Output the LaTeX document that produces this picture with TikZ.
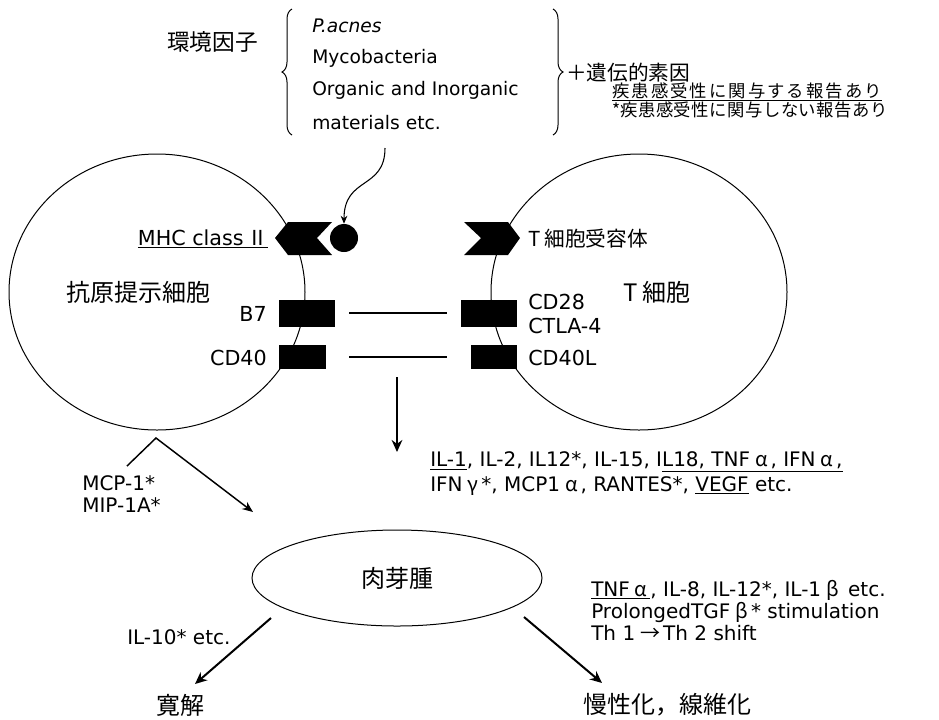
\documentclass[tikz,border=0pt]{standalone}
\usepackage{fontspec}
\setmainfont{DejaVu Sans}
\newfontfamily\cjk{Noto Sans CJK JP}
\newfontfamily\cjknotea[LetterSpace=12]{Noto Sans CJK JP}
\newfontfamily\cjknoteb[LetterSpace=3]{Noto Sans CJK JP}
\newcommand\gk[1]{\hspace{0.25em}{\cjk #1}\hspace{0.15em}}
\usetikzlibrary{arrows.meta,decorations.pathreplacing,shapes.geometric}
\begin{document}
\begin{tikzpicture}[x=0.75pt,y=-0.75pt,
  txt/.style={inner sep=0pt, font=\fontsize{15}{18}\selectfont},
  lst/.style={inner sep=0pt, font=\fontsize{14}{17}\selectfont},
  lbl/.style={inner sep=0pt, font=\fontsize{15.5}{18}\selectfont},
  jbig/.style={inner sep=0pt, font=\cjk\fontsize{18}{21}\selectfont},
  jenv/.style={inner sep=0pt, font=\cjk\fontsize{17}{20}\selectfont},
  jgen/.style={inner sep=0pt, font=\cjk\fontsize{15.5}{18}\selectfont},
  jmid/.style={inner sep=0pt, font=\cjk\fontsize{15.5}{18}\selectfont},
  jnotea/.style={inner sep=0pt, font=\cjknotea\fontsize{13}{15}\selectfont},
  jnoteb/.style={inner sep=0pt, font=\cjknoteb\fontsize{13}{15}\selectfont},
  cell/.style={draw, ellipse, line width=0.75pt, minimum width=222pt, minimum height=207pt, inner sep=0pt},
  recep/.style={fill=black, draw=none, inner sep=0pt},
  bond/.style={line width=0.9pt},
  bigarrow/.style={line width=1.5pt, -{Stealth[length=9pt,width=8pt]}},
  thinarrow/.style={line width=1.1pt, -{Stealth[length=8pt,width=6.5pt]}},
  brc/.style={line width=0.75pt, decorate, decoration={brace, amplitude=7.5pt}},
]
\useasboundingbox (0,0) rectangle (939,719);

% cells
\node[cell] (apc) at (157,292) {};
\node[cell] (tc) at (639,292) {};

% receptors
\fill (275,238) -- (288,222) -- (332,222) -- (317,238) -- (332,255) -- (288,255) -- cycle;
\node[circle, fill=black, minimum size=21pt, inner sep=0pt] (ag) at (344,238) {};
\fill (464,222) -- (508,222) -- (520,238) -- (508,255) -- (464,255) -- (481,238) -- cycle;
\node[recep, minimum width=42pt, minimum height=20.25pt] (b7) at (307,313.5) {};
\node[recep, minimum width=35.25pt, minimum height=18pt] (cd40) at (302.5,357) {};
\node[recep, minimum width=42pt, minimum height=20.25pt] (cd28) at (489,313.5) {};
\node[recep, minimum width=34.5pt, minimum height=18pt] (cd40lg) at (494,357) {};

% bonds
\coordinate (b1a) at (349,313);
\coordinate (b1b) at (447,313);
\coordinate (b2a) at (349,357);
\coordinate (b2b) at (447,357);
\draw[bond] (b1a) -- (b1b);
\draw[bond] (b2a) -- (b2b);

% cell labels
\node[lbl, anchor=east] (mhcl) at (268,239) {\underline{MHC class\,\cjk{Ⅱ}}};
\node[jbig] (apcl) at (138,292) {抗原提示細胞};
\node[lbl, anchor=east] (b7l) at (267,314) {B7};
\node[lbl, anchor=east] (cd40t) at (267,358) {CD40};
\node[jmid, anchor=west] (tcrl) at (528,239) {T\hspace{3pt}細胞受容体};
\node[jbig] (tcl) at (657,292) {T\hspace{3pt}細胞};
\node[lbl, anchor=west] (cd28l) at (528,302) {CD28};
\node[lbl, anchor=west] (ctlal) at (528,326) {CTLA-4};
\node[lbl, anchor=west] (cd40ll) at (528,358) {CD40L};

% top
\node[jenv, anchor=east] (env) at (258,42) {環境因子};
\node[lst, anchor=west] (t1) at (312,26) {\textit{P.acnes}};
\node[lst, anchor=west] (t2) at (312,58) {Mycobacteria};
\node[lst, anchor=west] (t3) at (312,90) {Organic and Inorganic};
\node[lst, anchor=west] (t4) at (312,123) {materials etc.};
\draw[brc] (292,135) -- (292,9);
\draw[brc] (553,9) -- (553,135);
\node[jgen, anchor=west] (gen) at (566,73) {＋遺伝的素因};
\node[jnotea, anchor=west] (n1) at (612,92) {\underline{疾患感受性に関与する報告あり}};
\node[jnoteb, anchor=west] (n2) at (612,110) {{\cjk *}疾患感受性に関与しない報告あり};

% antigen arrow
\coordinate (src) at (385,148);
\draw[line width=0.8pt, -{Stealth[length=6pt,width=5pt]}] (src) .. controls (385,190) and (344,176) .. (ag.north);

% central arrow and cytokines
\coordinate (ca) at (397,377);
\coordinate (cb) at (397,452);
\draw[bigarrow] (ca) -- (cb);
\node[txt, anchor=west] (cy1) at (430,462) {\underline{IL-1}, IL-2, IL12*, IL-15, I\underline{L18, TNF\gk{α}, IFN\gk{α},}};
\node[txt, anchor=west] (cy2) at (430,486) {IFN\gk{γ}*, MCP1\gk{α}, RANTES*, \underline{VEGF} etc.};

% MCP arrow
\coordinate (m1) at (127,466);
\coordinate (m2) at (156,438);
\coordinate (m3) at (253,512);
\draw[thinarrow] (m1) -- (m2) -- (m3);
\node[txt, anchor=west] (mcp) at (82,483) {MCP-1*};
\node[txt, anchor=west] (mip) at (82,505) {MIP-1A*};

% granuloma
\node[draw, ellipse, line width=0.75pt, minimum width=217.5pt, minimum height=72pt, font=\cjk\fontsize{18}{21}\selectfont] (gr) at (397,578) {肉芽腫};

% outcomes
\coordinate (la) at (271,618);
\coordinate (lb) at (195,684);
\draw[bigarrow] (la) -- (lb);
\coordinate (ra) at (524,617);
\coordinate (rb) at (602,683);
\draw[bigarrow] (ra) -- (rb);
\node[txt, anchor=west] (il10) at (127,637) {IL-10* etc.};
\node[jbig] (rem) at (180,705) {寛解};
\node[jbig, anchor=west] (chr) at (583,705) {慢性化，線維化};
\node[txt, anchor=west] (r1) at (591,590) {\underline{TNF\gk{α}}, IL-8, IL-12*, IL-1\gk{β} etc.};
\node[txt, anchor=west] (r2) at (591,612) {ProlongedTGF\gk{β}* stimulation};
\node[txt, anchor=west] (r3) at (591,633) {Th 1\gk{→}Th 2 shift};
\end{tikzpicture}
\end{document}
